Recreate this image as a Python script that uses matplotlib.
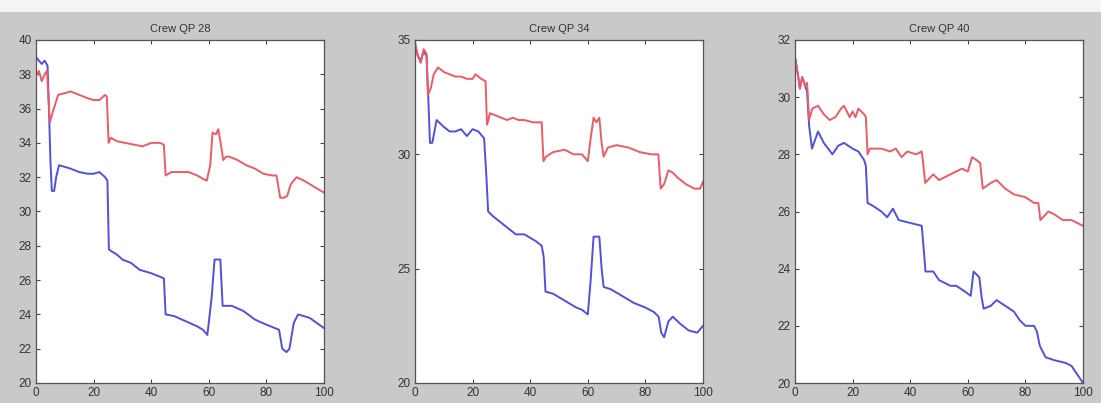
import matplotlib
matplotlib.use('Agg')
import matplotlib.pyplot as plt
from matplotlib.patches import Rectangle

red_color = '#ee5a66'
blue_color = '#5050e0'
bg_color = '#c9c9c9'

titles = ['Crew QP 28', 'Crew QP 34', 'Crew QP 40']
x_ticks = [0, 20, 40, 60, 80, 100]
y_limits = [(20, 40), (20, 35), (20, 32)]
y_ticks = [[20, 22, 24, 26, 28, 30, 32, 34, 36, 38, 40],
           [20, 25, 30, 35],
           [20, 22, 24, 26, 28, 30, 32]]

# QP 28
qp28_red_x = [0, 1, 2, 3, 3.8, 4.8, 6, 7.7, 10, 12, 15, 18, 20, 22, 24, 24.6, 25.2, 26, 28, 31, 34, 37, 40, 43,
              44.4, 45, 47, 50, 53, 56, 58, 59.3, 60.5, 61.3, 62.5, 63.3, 64.3, 65, 66, 67, 70, 73, 76, 79, 82,
              83.5, 84.8, 86, 87.2, 88.5, 90.5, 93, 96, 100]
qp28_red_y = [37.9, 38.2, 37.6, 38.0, 38.2, 35.2, 35.9, 36.8, 36.9, 37.0, 36.8, 36.6, 36.5, 36.5, 36.8, 36.7, 34.0,
              34.3, 34.1, 34.0, 33.9, 33.8, 34.0, 34.0, 33.9, 32.1, 32.3, 32.3, 32.3, 32.1, 31.9, 31.8, 32.7, 34.6,
              34.5, 34.8, 33.8, 33.0, 33.2, 33.2, 33.0, 32.7, 32.5, 32.2, 32.1, 32.1, 30.8, 30.8, 30.9, 31.6, 32.0,
              31.8, 31.5, 31.1]
qp28_blue_x = [0, 1, 2, 3, 4, 4.5, 5, 5.5, 6.3, 7, 8, 10, 12, 15, 18, 20, 22, 24, 24.8, 25.3, 26, 28, 30, 33, 36,
               40, 43, 44.4, 45, 48, 52, 56, 58, 59.5, 61, 62, 64, 64.8, 66, 68, 72, 76, 80, 83, 84.4, 85.5, 87,
               88, 89.5, 91, 95, 100]
qp28_blue_y = [39.0, 38.8, 38.6, 38.8, 38.5, 36.0, 33.0, 31.2, 31.2, 32.0, 32.7, 32.6, 32.5, 32.3, 32.2, 32.2, 32.3,
               32.0, 31.8, 27.8, 27.7, 27.5, 27.2, 27.0, 26.6, 26.4, 26.2, 26.1, 24.0, 23.9, 23.6, 23.3, 23.1, 22.8,
               25.0, 27.2, 27.2, 24.5, 24.5, 24.5, 24.2, 23.7, 23.4, 23.2, 23.1, 22.0, 21.8, 22.0, 23.5, 24.0, 23.8,
               23.2]

# QP 34
qp34_red_x = [0, 1, 2, 3, 4, 4.5, 5.5, 6.5, 8, 10, 12, 14, 16, 18, 20, 21, 23, 24.5, 25, 25.5, 26, 28, 30, 32, 34,
              36, 38, 41, 44, 44.6, 45.5, 48, 52, 55, 58, 60, 61, 62, 63, 64, 64.8, 65.5, 67, 70, 74, 78, 82, 84.5,
              85.3, 86.5, 88, 89.5, 91, 94, 97, 99, 100]
qp34_red_y = [34.9, 34.3, 34.0, 34.6, 34.4, 32.6, 32.9, 33.5, 33.8, 33.6, 33.5, 33.4, 33.4, 33.3, 33.3, 33.5, 33.3,
              33.2, 31.3, 31.5, 31.8, 31.7, 31.6, 31.5, 31.6, 31.5, 31.5, 31.4, 31.4, 29.7, 29.9, 30.1, 30.2, 30.0,
              30.0, 29.7, 30.7, 31.6, 31.4, 31.6, 30.5, 29.9, 30.3, 30.4, 30.3, 30.1, 30.0, 30.0, 28.5, 28.7, 29.3,
              29.2, 29.0, 28.7, 28.5, 28.5, 28.8]
qp34_blue_x = [0, 1, 2, 3, 4, 4.6, 5.2, 6, 7.5, 10, 12, 14, 16, 18, 20, 22, 24, 24.8, 25.4, 27, 30, 32, 35, 38, 42,
               44, 44.7, 45.3, 48, 52, 56, 58, 60, 61, 62, 64, 64.8, 65.5, 68, 72, 76, 80, 83, 84.6, 85.5, 86.5, 88,
               89.5, 92, 95, 98, 100]
qp34_blue_y = [34.8, 34.3, 34.1, 34.5, 34.3, 32.5, 30.5, 30.5, 31.5, 31.2, 31.0, 31.0, 31.1, 30.8, 31.1, 31.0, 30.7,
               29.0, 27.5, 27.3, 27.0, 26.8, 26.5, 26.5, 26.2, 26.0, 25.5, 24.0, 23.9, 23.6, 23.3, 23.2, 23.0, 24.5,
               26.4, 26.4, 25.0, 24.2, 24.1, 23.8, 23.5, 23.3, 23.1, 22.9, 22.2, 22.0, 22.7, 22.9, 22.6, 22.3, 22.2,
               22.5]

# QP 40
qp40_red_x = [0, 1, 1.7, 2.5, 3.5, 4.2, 4.9, 6, 8, 10, 12, 14, 16, 17, 19, 20, 21, 22, 24, 24.6, 25.2, 26, 30, 33,
              35, 37, 39, 42, 44, 44.5, 45.2, 48, 50, 54, 58, 60, 61.5, 63, 64.3, 65.2, 68, 70, 73, 76, 80, 83, 84.5,
              85.2, 88, 90, 93, 96, 100]
qp40_red_y = [31.4, 30.8, 30.3, 30.7, 30.4, 30.5, 29.2, 29.6, 29.7, 29.4, 29.2, 29.3, 29.6, 29.7, 29.3, 29.5, 29.3,
              29.6, 29.4, 29.3, 28.0, 28.2, 28.2, 28.1, 28.2, 27.9, 28.1, 28.0, 28.1, 27.7, 27.0, 27.3, 27.1, 27.3,
              27.5, 27.4, 27.9, 27.8, 27.7, 26.8, 27.0, 27.1, 26.8, 26.6, 26.5, 26.3, 26.3, 25.7, 26.0, 25.9, 25.7,
              25.7, 25.5]
qp40_blue_x = [0, 1, 1.7, 2.5, 3.5, 4.2, 4.9, 5.9, 8, 10, 13, 15, 17, 20, 22, 24, 24.6, 25.2, 27, 30, 32, 34, 36, 40,
               44, 44.6, 45.3, 48, 50, 54, 56, 59, 61, 62, 64, 64.8, 65.5, 68, 70, 73, 76, 78, 80, 83, 84, 85, 87,
               90, 94, 96, 100]
qp40_blue_y = [31.4, 30.8, 30.3, 30.7, 30.4, 30.2, 29.0, 28.2, 28.8, 28.4, 28.0, 28.3, 28.4, 28.2, 28.1, 27.8, 27.6,
               26.3, 26.2, 26.0, 25.8, 26.1, 25.7, 25.6, 25.5, 24.8, 23.9, 23.9, 23.6, 23.4, 23.4, 23.2, 23.05, 23.9,
               23.7, 23.0, 22.6, 22.7, 22.9, 22.7, 22.5, 22.2, 22.0, 22.0, 21.8, 21.3, 20.9, 20.8, 20.7, 20.6, 20.0]

series = [
    (qp28_blue_x, qp28_blue_y, qp28_red_x, qp28_red_y),
    (qp34_blue_x, qp34_blue_y, qp34_red_x, qp34_red_y),
    (qp40_blue_x, qp40_blue_y, qp40_red_x, qp40_red_y),
]

plt.rcParams['font.family'] = ['Liberation Sans', 'DejaVu Sans']

fig = plt.figure(figsize=(11.01, 4.03), dpi=100)
fig.patch.set_facecolor(bg_color)
# pale strip along the top edge of the page
fig.add_artist(Rectangle((0, 1 - 12 / 403), 1, 12 / 403, transform=fig.transFigure,
                         facecolor='#f4f4f4', edgecolor='none', zorder=0))

lefts = [36, 415, 795]
for i, left in enumerate(lefts):
    ax = fig.add_axes([left / 1101, 20 / 403, 288 / 1101, 343 / 403])
    bx, by, rx, ry = series[i]
    ax.plot(bx, by, color=blue_color, linewidth=1.4)
    ax.plot(rx, ry, color=red_color, linewidth=1.4)
    ax.set_xlim(0, 100)
    ax.set_ylim(*y_limits[i])
    ax.set_xticks(x_ticks)
    ax.set_yticks(y_ticks[i])
    ax.tick_params(direction='in', top=True, right=True, length=3, width=0.8,
                   labelsize=8.5, colors='#444444', labelcolor='#333333', pad=3)
    for spine in ax.spines.values():
        spine.set_color('#555555')
        spine.set_linewidth(0.9)
    ax.set_title(titles[i], fontsize=8, color='#333333', pad=6)

fig.savefig('out.png', dpi=100, facecolor=fig.get_facecolor())
